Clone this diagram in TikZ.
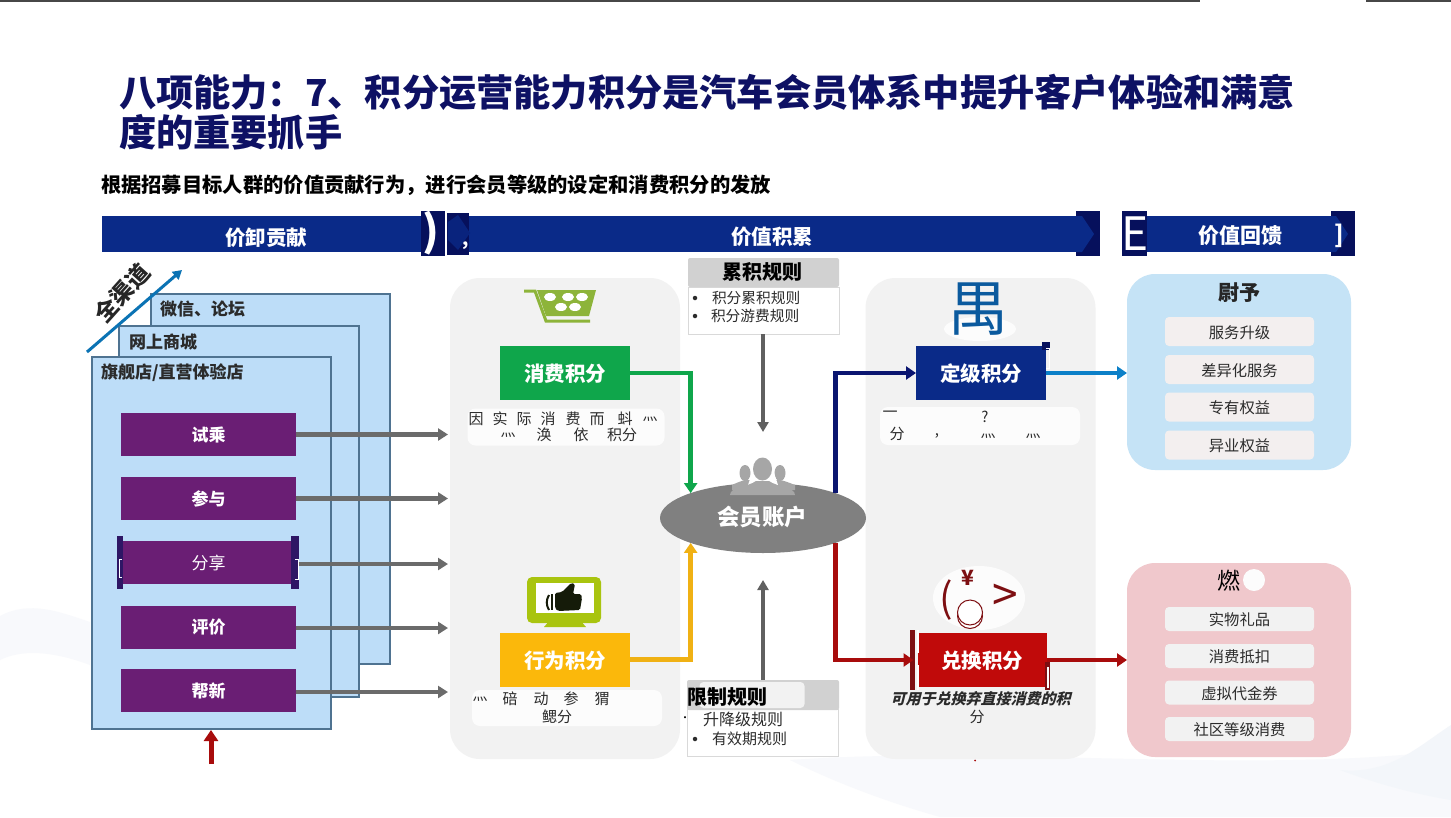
\documentclass[tikz,border=0pt]{standalone}
\usepackage{fontspec}
\setmainfont{Noto Sans CJK SC}
\usetikzlibrary{arrows.meta,shapes.geometric,calc}
\newcommand{\fsz}[1]{\fontsize{#1}{#1}\selectfont}
\definecolor{navy}{HTML}{0A2A88}
\definecolor{darkblock}{HTML}{06105C}
\definecolor{titleblue}{HTML}{0E1164}
\definecolor{chan}{HTML}{BDDDF8}
\definecolor{chanline}{HTML}{4F7391}
\definecolor{purp}{HTML}{6A1E74}
\definecolor{panelgray}{HTML}{F2F2F2}
\definecolor{arrowgray}{HTML}{6B6B6B}
\definecolor{grn}{HTML}{0FA64B}
\definecolor{yel}{HTML}{FBB80B}
\definecolor{yelline}{HTML}{F0B114}
\definecolor{redbox}{HTML}{C00A0A}
\definecolor{redline}{HTML}{A80C0C}
\definecolor{darkred}{HTML}{7D0F12}
\definecolor{navyline}{HTML}{0A1570}
\definecolor{skyline}{HTML}{0C80C8}
\definecolor{bluepanel}{HTML}{C5E3F6}
\definecolor{redpanel}{HTML}{F0C8CC}
\definecolor{olive}{HTML}{8DB43A}
\definecolor{lime}{HTML}{A9C40F}
\definecolor{person}{HTML}{A6A6A6}
\definecolor{txt}{HTML}{2B2B2B}
\definecolor{itempink}{HTML}{F3EFEF}
\definecolor{wavea}{HTML}{F8F9FC}
\definecolor{waveb}{HTML}{F3F6FA}
\definecolor{softwhite}{HTML}{FCFCFC}
\definecolor{yublue}{HTML}{0B5A9E}
\tikzset{
  every node/.style={inner sep=0pt,outer sep=0pt},
  bar/.style={fill=navy,minimum height=36pt},
  block/.style={fill=darkblock,minimum height=45pt,minimum width=24pt},
  bartext/.style={text=white,font=\fsz{20.5}\bfseries},
  chanbox/.style={draw=chanline,line width=1.3pt,fill=chan},
  chantext/.style={text=txt,font=\fsz{17}\bfseries,anchor=west},
  act/.style={fill=purp,minimum width=175pt,minimum height=43pt,text=white,font=\fsz{17}\bfseries},
  flow/.style={draw=arrowgray,line width=4.4pt,-{Triangle[length=10pt,width=12pt]}},
  rulearrow/.style={draw=arrowgray!90!black,line width=3.4pt,-{Triangle[length=10pt,width=11pt]}},
  bigpanel/.style={fill=panelgray,rounded corners=30pt,minimum width=230pt,minimum height=481pt},
  score/.style={minimum width=130pt,minimum height=54pt,text=white,font=\fsz{20.5}\bfseries,text height=17.6pt,text depth=0pt},
  colored/.style={line width=4.8pt,-{Triangle[length=10pt,width=13pt]}},
  blot/.style={fill=softwhite,rounded corners=8pt},
  desc/.style={text=txt,font=\fsz{15}},
  rulehead/.style={fill=black!18,minimum width=151pt,minimum height=29pt,rounded corners=2pt},
  rulebody/.style={fill=white,draw=black!15,line width=1pt,minimum width=151pt},
  ruleitem/.style={text=txt,font=\fsz{14.7},anchor=west},
  bul/.style={circle,fill=txt,minimum size=4.5pt},
  benefit/.style={rounded corners=28pt,minimum width=224pt},
  item/.style={fill=#1,rounded corners=4pt,minimum width=149pt,text=txt,font=\fsz{15.3},text height=13.6pt,text depth=0pt},
}
\begin{document}
\begin{tikzpicture}[x=1pt,y=-1pt]
\useasboundingbox (0,0) rectangle (1451,817);
\fill[white] (0,0) rectangle (1451,817);
% background
\fill[black!72] (0,0) rectangle (1200,1.6);
\fill[black!72] (1366,0) rectangle (1451,1.6);
\fill[wavea] (0,616) .. controls (30,600) and (60,612) .. (90,622) -- (90,665) .. controls (50,650) and (20,650) .. (0,660) -- cycle;
\fill[wavea] (790,760) .. controls (1000,745) and (1250,775) .. (1451,750) -- (1451,817) -- (940,817) .. controls (880,800) and (830,780) .. (790,760) -- cycle;
\fill[waveb] (1340,770) .. controls (1390,775) and (1420,745) .. (1451,725) -- (1451,800) .. controls (1420,795) and (1380,785) .. (1340,770) -- cycle;

% title
\node[anchor=west,text=titleblue,font=\fsz{37.2}\bfseries] (title1) at (119,92) {八项能力：7、积分运营能力积分是汽车会员体系中提升客户体验和满意};
\node[anchor=west,text=titleblue,font=\fsz{37.2}\bfseries] (title2) at (119,132) {度的重要抓手};
\node[anchor=west,text=black,font=\fsz{20.3}\bfseries] (subtitle) at (101,185) {根据招募目标人群的价值贡献行为，进行会员等级的设定和消费积分的发放};

% header bars
\node[bar,minimum width=322pt] (bar1) at (263,234) {};
\node[block] (b1r) at (433,233.5) {};
\node[bartext] (bar1t) at (266,238) {价卸贡献};
\node[text=white,font=\fsz{42}\bfseries] (b1rt) at (431,233) {)};
\node[bar,minimum width=640pt] (bar2) at (767,234) {};
\node[block,minimum width=22pt,minimum height=42pt] (b2l) at (458,234) {};
\fill[navy!75!darkblock] (448,222) -- (458,215) -- (470,233) -- (458,250) -- (448,240) -- cycle;
\node[text=white,font=\fsz{18}\bfseries] (b2lt) at (466,246) {,};
\node[block] (b2r) at (1088,233.5) {};
\fill[navy] (1076,216) -- (1082,216) -- (1094,234) -- (1082,252) -- (1076,252) -- cycle;
\node[bartext] (bar2t) at (772,237) {价值积累};
\node[bar,minimum width=210pt] (bar3) at (1240,234) {};
\node[block,minimum width=25pt] (b3l) at (1134.5,233.5) {};
\node[block] (b3r) at (1343,233.5) {};
\fill[navy] (1331,216) -- (1336,216) -- (1348,234) -- (1336,252) -- (1331,252) -- cycle;
\node[text=white,font=\fsz{46}] (b3lt) at (1135,234) {E};
\node[bartext,font=\fsz{21}\bfseries] (bar3t) at (1240,236) {价值回馈};
\node[text=white,font=\fsz{24}\bfseries] (b3rt) at (1339,236) {]};

% channels
\draw[chanbox] (151,294) rectangle (390,664);
\draw[chanbox] (119,326) rectangle (359,697);
\draw[chanbox] (92,357) rectangle (331,729);
\node[chantext] (c3) at (160,309) {微信、论坛};
\node[chantext] (c2) at (129,342) {网上商城};
\node[chantext] (c1) at (101,373) {旗舰店/直营体验店};
\coordinate (chs) at (87,352);
\coordinate (che) at (182,270);
\draw[draw=skyline!90!black,line width=3pt,-{Triangle[length=9pt,width=10pt]}] (chs) -- (che);
\node[rotate=48,text=black!85,font=\fsz{23}\bfseries] (qu) at (122,293) {全渠道};

% grey panels
\node[bigpanel] (pa) at (565,518.5) {};
\node[bigpanel] (pb) at (980.5,518.5) {};

% actions
\node[act] (a1) at (208.5,434.5) {试乘};
\node[act] (a2) at (208.5,498.5) {参与};
\node[act,font=\fsz{17}] (a3) at (208.5,562.5) {分享};
\fill[darkblock!60!purp] (117,536) rectangle (123,589);
\fill[darkblock!60!purp] (291,536) rectangle (299,589);
\draw[white,line width=.8pt] (122,559) -- (119,559) -- (119,577) -- (122,577);
\draw[white,line width=.8pt] (295,559) -- (298,559) -- (298,579) -- (295,579);
\node[act] (a4) at (208.5,627) {评价};
\node[act] (a5) at (208.5,690.5) {帮新};
\coordinate (a3e) at (299,564);
\draw[flow,shorten >=2pt] (a1.east) -- (a1.east -| pa.west);
\draw[flow,shorten >=2pt] (a2.east) -- (a2.east -| pa.west);
\draw[flow,shorten >=2pt] (a3e) -- (a3e -| pa.west);
\draw[flow,shorten >=2pt] ([yshift=-1pt]a4.east) -- ([yshift=-1pt]a4.east -| pa.west);
\draw[flow,shorten >=2pt] ([yshift=-1.5pt]a5.east) -- ([yshift=-1.5pt]a5.east -| pa.west);
% up arrow
\coordinate (ups) at (211,764);
\coordinate (upe) at (211,730);
\draw[draw=redline,line width=5pt,-{Triangle[length=11pt,width=14pt]}] (ups) -- (upe);

% cart
\draw[olive,line width=3pt] (524,291) -- (535,291) -- (546,321) -- (590,321);
\fill[olive] (537,290) -- (596,290) -- (589,316) -- (546,316) -- cycle;
\foreach \p in {(550,297),(568,297),(582,297),(561,307),(575,307)}
  \fill[white] \p ellipse (6pt and 4pt);

% account ellipse
\node[ellipse,fill=black!50,minimum width=206pt,minimum height=70pt] (acct) at (763,518) {};
\node[text=white,font=\fsz{22.5}\bfseries] (acctt) at (762,517) {会员账户};
% people
\fill[person] (745,473) ellipse (5.5pt and 8pt);
\fill[person] (780,473) ellipse (5.5pt and 8pt);
\fill[person] (732,485) .. controls (738,482) and (742,481) .. (745,480) -- (780,480) .. controls (785,481) and (790,483) .. (795,485) -- (795,490) -- (732,490) -- cycle;
\fill[white] (748,485) -- (753,470) -- (773,470) -- (778,485) -- cycle;
\fill[person] (762.5,469) ellipse (9.5pt and 11.5pt);
\fill[person] (730,495) .. controls (730,487) and (748,487) .. (756,481) -- (769,481) .. controls (777,487) and (795,487) .. (795,495) -- cycle;

% scores
\node[score,fill=grn] (xf) at (565,373) {消费积分};
\node[score,fill=yel] (xw) at (565,659.5) {行为积分};
\node[score,fill=navy] (dj) at (981,373) {定级积分};
\fill[darkblock] (1042,342) rectangle (1050,350);
\draw[white,line width=1pt] (1046,348) -- (1049,348) -- (1049,368) -- (1046,368);
\fill[softwhite] (980,329) ellipse (36pt and 12pt);
\node[text=yublue,font=\fsz{60}] (yu) at (978,309) {禺};

\fill[softwhite] (979,598) ellipse (46pt and 32pt);
\node[text=darkred,font=\fsz{40}] (p1) at (946,600) {(};
\node[text=darkred,font=\fsz{21}\bfseries] (yen) at (968,578) {¥};
\draw[darkred,line width=1pt,fill=white] (970,616) circle (12.5pt);
\draw[darkred,line width=1pt,fill=white] (970,612.5) circle (12.5pt);
\node[text=darkred,font=\fsz{46}] (p2) at (1005,598) {>};

\fill[darkred] (910,630) rectangle (915,690);
\node[score,fill=redbox,minimum width=129pt] (dh) at (982,660) {兑换积分};
\fill[white] (917,630) rectangle (919,653);
\fill[white] (917,665) rectangle (919,690);
\fill[darkred] (1045,662) rectangle (1050,690);
\fill[white] (1047,667) rectangle (1049,688);
\fill[redline] (975,760.5) circle (1pt);

% connectors
\draw[colored,draw=grn] (xf.east) -| (acct.161);
\draw[colored,draw=yelline] (xw.east) -| (acct.199);
\draw[colored,draw=navyline] (acct.19) |- (dj.west);
\draw[colored,draw=redline,shorten >=4pt] (acct.-19) |- (dh.west);

% descriptions
\node[blot,minimum width=197pt,minimum height=37pt] (d1b) at (566,427) {};
\foreach \c/\x in {因/476,实/500,际/524,消/548,费/573,而/597,蚪/625,灬/650}
  \node[desc] at (\x,419) {\c};
\foreach \c/\x in {灬/508,涣/544,依/581}
  \node[desc] at (\x,435) {\c};
\node[desc] (d1c) at (622,435) {积分};

\node[blot,minimum width=190pt,minimum height=36pt] (d2b) at (567,708) {};
\foreach \c/\x in {灬/480,碚/510,动/541,参/571,猬/602}
  \node[desc] at (\x,699) {\c};
\node[desc] (d2c) at (557,717) {鳃分};

\node[blot,minimum width=200pt,minimum height=38pt] (d3b) at (980,426) {};
\node[desc] (d3a) at (890,414) {一};
\node[desc] (d3q) at (985,417) {?};
\node[desc] (d3c) at (897,434) {分};
\node[desc] (d3d) at (937,436) {,};
\node[desc] (d3e) at (988,436) {灬};
\node[desc] (d3f) at (1033,436) {灬};

\node[desc,font=\fsz{15}\bfseries,xslant=0.25,transform shape] (d4) at (982,699) {可用于兑换弃直接消费的积};
\node[desc] (d4c) at (977,717) {分};

% rule boxes
\node[rulebody,minimum height=47pt] (r1) at (763.5,310.5) {};
\node[rulehead] (r1h) at (763.5,272.5) {};
\node[text=black,font=\fsz{20}\bfseries] (r1t) at (762,272) {累积规则};
\node[bul] (r1a) at (695,298) {};
\node[bul] (r1b) at (695,316) {};
\node[ruleitem] (r1c) at (712,298) {积分累积规则};
\node[ruleitem] (r1d) at (711,316) {积分游费规则};
\coordinate (r1e) at (r1.south -| acct.north);
\coordinate (r1f) at ($(acct.north)+(0,-51)$);
\draw[rulearrow] (r1e) -- (r1f);

\node[rulebody,minimum height=47pt] (r2) at (763,733) {};
\node[rulehead,minimum width=152pt,minimum height=30pt] (r2h) at (763,695) {};
\node[fill=black!5,minimum width=105pt,minimum height=26pt,rounded corners=4pt] (r2b) at (752,695) {};
\node[anchor=west,text=black,font=\fsz{20}\bfseries] (r2t) at (687,697) {限制规则};
\node[text=black,font=\fsz{10}] (r2dot) at (685,719) {·};
\node[bul] (r2bu) at (695,739) {};
\node[ruleitem,font=\fsz{16}] (r2c) at (703,719) {升降级规则};
\node[ruleitem,font=\fsz{15}] (r2d) at (712,739) {有效期规则};
\coordinate (r2e) at (r2h.north -| acct.south);
\coordinate (r2f) at ($(acct.south)+(0,27)$);
\draw[rulearrow] (r2e) -- (r2f);

% benefit panels
\node[benefit,fill=bluepanel,minimum height=196pt] (bp) at (1239,372) {};
\node[text=black!85,font=\fsz{21}\bfseries] (bpt) at (1239,293) {尉予};
\node[item=itempink,minimum height=29pt] (i1) at (1239.5,331.5) {服务升级};
\node[item=itempink,minimum height=29pt] (i2) at (1239.5,369.5) {差异化服务};
\node[item=itempink,minimum height=29pt] (i3) at (1239.5,407) {专有权益};
\node[item=itempink,minimum height=29pt] (i4) at (1239.5,445) {异业权益};

\node[benefit,fill=redpanel,minimum height=194pt] (rp) at (1239,660) {};
\fill[softwhite] (1254,580) ellipse (11pt and 11pt);
\node[text=black,font=\fsz{23}] (rpt) at (1229,581) {燃};
\node[item=panelgray,minimum height=24pt] (j1) at (1239.5,619) {实物礼品};
\node[item=panelgray,minimum height=24pt] (j2) at (1239.5,656) {消费抵扣};
\node[item=panelgray,minimum height=24pt] (j3) at (1239.5,692.5) {虚拟代金券};
\node[item=panelgray,minimum height=24pt] (j4) at (1239.5,729) {社区等级消费};

\draw[colored,draw=skyline] (dj.east) -- (dj.east -| bp.west);
\draw[colored,draw=redline] (dh.east) -- (dh.east -| rp.west);

% monitor
\fill[lime,rounded corners=5pt] (527,577) rectangle (601,623);
\fill[lime] (550,620) -- (580,620) -- (586,627) -- (544,627) -- cycle;
\fill[white] (536,583) rectangle (594,613);
\fill[black!85!olive] (551,594) rectangle (553,610);
\draw[black!85!olive,line width=2pt] (549,595) .. controls (546,600) and (546,605) .. (549,610);
\fill[black!85!olive,rounded corners=1.5pt] (555,593) -- (562,592) -- (571,583) -- (575,584) -- (573,594) -- (581,594) -- (582,598) -- (580,610) -- (558,611) -- (555,608) -- cycle;
\end{tikzpicture}
\end{document}
